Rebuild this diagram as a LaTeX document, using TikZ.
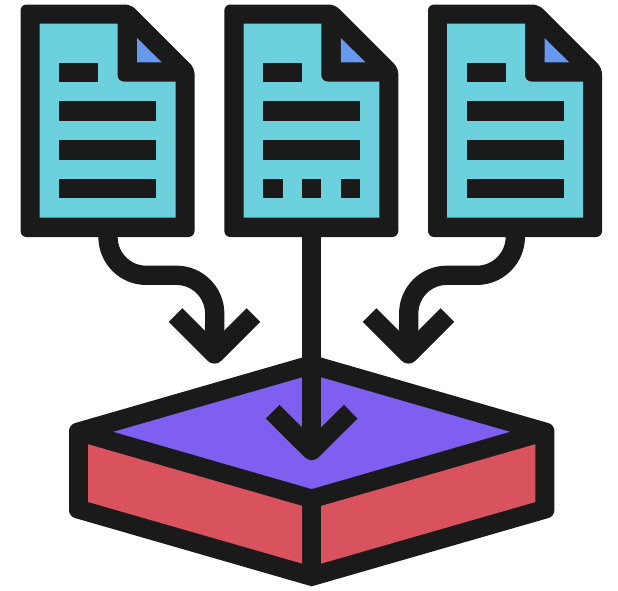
\documentclass[tikz,border=0pt]{standalone}
\definecolor{inkblack}{HTML}{1A1A1A}
\definecolor{sheetteal}{HTML}{6DD0DD}
\definecolor{foldblue}{HTML}{6699EE}
\definecolor{topviolet}{HTML}{7F5FF0}
\definecolor{sidered}{HTML}{D9535F}
\tikzset{
  ink/.style={fill=inkblack},
  flow/.style={draw=inkblack,line width=19.3pt,line join=round,line cap=butt},
  chevron/.style={draw=inkblack,line width=19.3pt,line join=round,line cap=butt}
}
\newcommand{\docsheet}{%
  \fill[ink,rounded corners=6pt] (20.5,4.5) -- (131,4.5) -- (194.5,68) -- (194.5,237) -- (20.5,237) -- cycle;
  \fill[sheetteal] (39.7,23.5) -- (117.5,23.5) [rounded corners=6pt] -- (117.5,81.5) [sharp corners] -- (175.5,81.5) -- (175.5,217.5) -- (39.7,217.5) -- cycle;
  \fill[foldblue] (137,38) -- (161.7,62.3) -- (137,62.3) -- cycle;
  \fill[ink] (59,62.5) rectangle (98,81.7);
  \fill[ink] (59,101.3) rectangle (156.3,120.5);
  \fill[ink] (59,140.2) rectangle (156.3,159.5);
}
\begin{document}
\begin{tikzpicture}[x=1pt,y=-1pt]
\useasboundingbox (0,0) rectangle (618,590);
\fill[white] (0,0) rectangle (618,590);
% left sheet
\begin{scope}
  \docsheet
  \fill[ink] (59,179) rectangle (156.3,198.3);
\end{scope}
% middle sheet
\begin{scope}[xshift=203.8pt]
  \docsheet
  \fill[ink] (59.5,179) rectangle (78.7,198.3);
  \fill[ink] (98.2,179) rectangle (117.5,198.3);
  \fill[ink] (137,179) rectangle (156.3,198.3);
\end{scope}
% right sheet
\begin{scope}[xshift=407.5pt]
  \docsheet
  \fill[ink] (59,179) rectangle (156.3,198.3);
\end{scope}
% box
\fill[ink] (311.7,354.8) [rounded corners=6pt] -- (554.4,424.8) -- (554.4,516.3) [sharp corners] -- (311.7,586.3) [rounded corners=6pt] -- (69,516.3) -- (69,424.8) [sharp corners] -- cycle;
\fill[topviolet] (311.7,374.6) -- (510,431.8) -- (311.7,489) -- (113.4,431.8) -- cycle;
\fill[sidered] (88,444.2) -- (302.2,505.9) -- (302.2,563.6) -- (88,502) -- cycle;
\fill[sidered] (321.2,505.9) -- (535.4,444.2) -- (535.4,502) -- (321.2,563.6) -- cycle;
% named ends of the connectors
\coordinate (leftout) at (108,230);
\coordinate (leftbend) at (108,237);
\coordinate (leftrun) at (146,275.3);
\coordinate (leftrunend) at (176.5,275.3);
\coordinate (leftdrop) at (214.7,313.5);
\coordinate (lefttip) at (214.5,354);
\coordinate (lefthookA) at (175.5,315);
\coordinate (lefthookB) at (253.5,315);
\coordinate (midout) at (311.7,230);
\coordinate (midtip) at (311.7,450.5);
\coordinate (midhookA) at (272.7,411.7);
\coordinate (midhookB) at (350.7,411.7);
\coordinate (rightout) at (515.3,230);
\coordinate (rightbend) at (515.3,237);
\coordinate (rightrun) at (477,275.3);
\coordinate (rightrunend) at (446.7,275.3);
\coordinate (rightdrop) at (408.7,313.5);
\coordinate (righttip) at (408.5,354);
\coordinate (righthookA) at (369.5,315);
\coordinate (righthookB) at (447.5,315);
% connectors
\draw[flow] (leftout) -- (leftbend) .. controls +(0,21) and +(-21,0) .. (leftrun) -- (leftrunend) .. controls +(21,0) and +(0,-21) .. (leftdrop) -- (lefttip);
\draw[chevron] (lefthookA) -- (lefttip) -- (lefthookB);
\draw[flow] (midout) -- (midtip);
\draw[chevron] (midhookA) -- (midtip) -- (midhookB);
\draw[flow] (rightout) -- (rightbend) .. controls +(0,21) and +(21,0) .. (rightrun) -- (rightrunend) .. controls +(-21,0) and +(0,-21) .. (rightdrop) -- (righttip);
\draw[chevron] (righthookA) -- (righttip) -- (righthookB);
\end{tikzpicture}
\end{document}
